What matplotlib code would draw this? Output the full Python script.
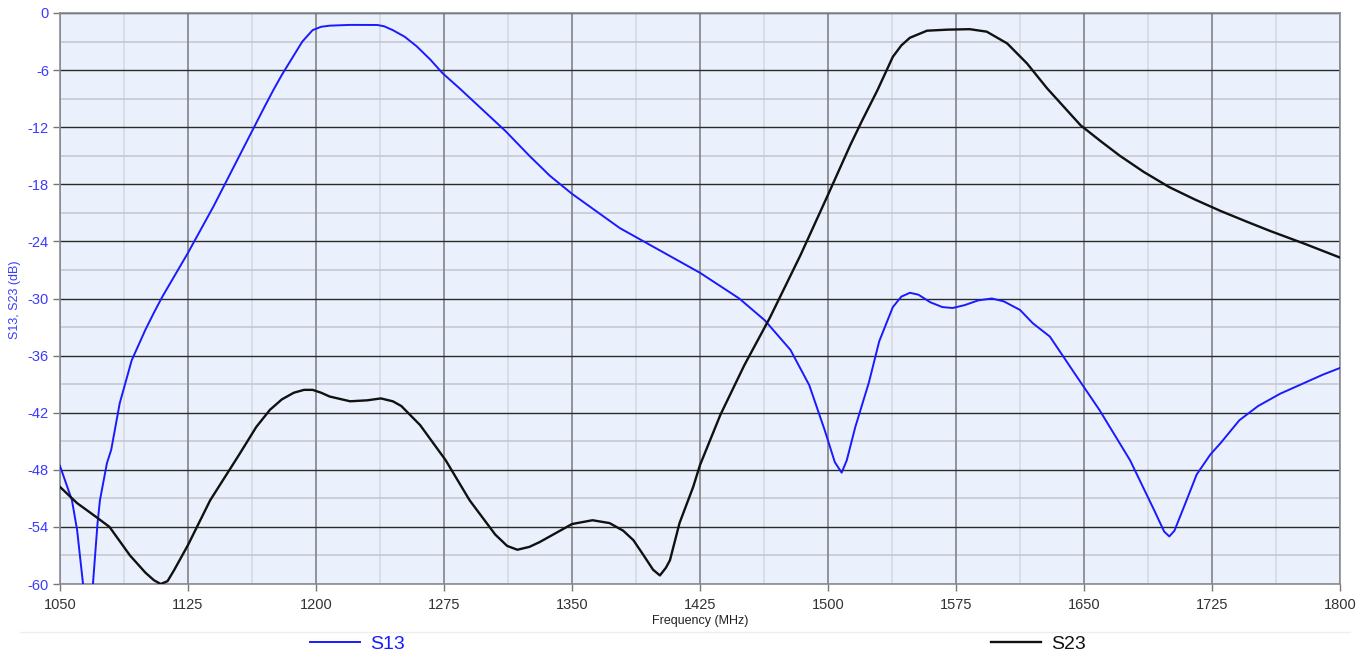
import matplotlib
matplotlib.use("Agg")
import matplotlib.pyplot as plt
from matplotlib.lines import Line2D
import numpy as np

plt.rcParams['font.family'] = ['Liberation Sans', 'DejaVu Sans']

# S13 (MHz, dB)
s13_f = [1050, 1057, 1060, 1063.5, 1066, 1069.3, 1072, 1073.4, 1077.5, 1080, 1085, 1092,
         1100, 1105, 1110, 1125, 1140, 1150, 1160, 1170, 1175, 1180, 1186.5, 1192, 1198, 1203,
         1208, 1220, 1236, 1240, 1245, 1252, 1259, 1267, 1274, 1284, 1296, 1311, 1325,
         1337, 1350, 1378, 1400, 1425, 1448, 1463, 1478, 1489, 1498, 1504, 1508, 1511, 1516,
         1524, 1530, 1538, 1543, 1548, 1553, 1560, 1567, 1573, 1580, 1588, 1596, 1603,
         1612.5, 1620, 1630, 1645, 1659, 1677, 1691, 1697, 1700, 1703, 1709, 1716, 1724,
         1730, 1741, 1752, 1765, 1780, 1790, 1800]
s13_db = [-47.6, -51.2, -54.3, -60, -72, -60, -53.6, -51.2, -47.3, -45.9, -41, -36.5,
          -33.3, -31.5, -29.8, -25.2, -20.3, -16.8, -13.3, -9.8, -8.1, -6.5, -4.6, -3, -1.8, -1.45,
          -1.33, -1.25, -1.26, -1.4, -1.8, -2.5, -3.5, -4.9, -6.3, -7.9, -9.9, -12.4, -15,
          -17.1, -19.0, -22.6, -24.8, -27.3, -30, -32.3, -35.4, -39.1, -43.8, -47.2, -48.3, -47, -43.5,
          -38.8, -34.5, -30.9, -29.8, -29.4, -29.6, -30.4, -30.9, -31, -30.7, -30.2, -30.0, -30.3,
          -31.2, -32.6, -34, -38, -41.7, -47, -52.2, -54.5, -55, -54.4, -51.7, -48.5, -46.4,
          -45.2, -42.8, -41.3, -40.0, -38.8, -38.0, -37.3]

# S23 (MHz, dB)
s23_f = [1050, 1060, 1070, 1079, 1091, 1100, 1105, 1109, 1113, 1117, 1125, 1138, 1155,
         1165, 1173, 1180, 1187, 1193, 1198, 1203, 1208, 1220, 1230, 1238, 1245, 1250, 1261, 1276,
         1290, 1305, 1312, 1318, 1325, 1331, 1340, 1350, 1362, 1372, 1380, 1386, 1392,
         1397.5, 1401.5, 1405, 1407.4, 1413, 1421, 1425, 1437, 1451, 1466, 1484, 1500,
         1513, 1520, 1529, 1538, 1543, 1548, 1558, 1570, 1583, 1593, 1605, 1616.6, 1628.3, 1648,
         1660, 1671, 1685, 1700, 1715, 1730, 1745, 1759, 1780, 1800]
s23_db = [-49.8, -51.5, -52.8, -54, -57, -58.8, -59.6, -60, -59.7, -58.5, -55.9, -51.2, -46.4,
          -43.5, -41.7, -40.6, -39.9, -39.6, -39.6, -39.9, -40.3, -40.8, -40.7, -40.5, -40.8, -41.3, -43.3, -47,
          -51.2, -54.8, -56, -56.4, -56.1, -55.6, -54.7, -53.7, -53.3, -53.6, -54.4, -55.4, -57,
          -58.5, -59.1, -58.3, -57.5, -53.6, -49.8, -47.5, -42.2, -37, -32, -25.4, -19.1,
          -13.9, -11.3, -8.1, -4.6, -3.4, -2.6, -1.86, -1.75, -1.7, -1.96, -3.2, -5.3, -7.9, -11.8,
          -13.5, -15.0, -16.7, -18.3, -19.6, -20.8, -21.9, -22.9, -24.3, -25.7]

x_ticks = [1050, 1125, 1200, 1275, 1350, 1425, 1500, 1575, 1650, 1725, 1800]
y_ticks = [0, -6, -12, -18, -24, -30, -36, -42, -48, -54, -60]

W, H = 1369, 658
fig = plt.figure(figsize=(W / 100, H / 100), dpi=100)
ax = fig.add_axes([60 / W, 1 - 584 / H, 1280 / W, 571 / H])
ax.set_facecolor('#eaf0fc')

ax.set_xlim(1050, 1800)
ax.set_ylim(-60, 0)

# grid: minor first, major on top
for xv in np.arange(1050 + 37.5, 1800, 75):
    ax.axvline(xv, color='#d6dae2', lw=1.2, zorder=1)
for yv in np.arange(-57, 0, 6):
    ax.axhline(yv, color='#c4c6cc', lw=1.1, zorder=1)
for xv in x_ticks:
    ax.axvline(xv, color='#8a8c90', lw=1.3, zorder=1)
for yv in y_ticks:
    ax.axhline(yv, color='#2a2a2a', lw=1.0, zorder=1)

l1, = ax.plot(s13_f, s13_db, color='#1a1aff', lw=1.4, label='S13', zorder=3)
l2, = ax.plot(s23_f, s23_db, color='#111111', lw=1.7, label='S23', zorder=3)

ax.set_xticks(x_ticks)
ax.set_yticks(y_ticks)
ax.set_xticklabels([str(v) for v in x_ticks], fontsize=10.5, color='#333333')
ax.set_yticklabels([str(v) for v in y_ticks], fontsize=10.5, color='#3a3aff')
ax.tick_params(axis='both', length=5, width=1, color='#777777', pad=3)
ax.tick_params(axis='x', pad=5)
for s in ax.spines.values():
    s.set_color('#8a8c90')
    s.set_linewidth(1.2)

ax.set_xlabel('Frequency (MHz)', fontsize=9, color='#222222', labelpad=2)
fig.text(15 / W, 1 - 300 / H, 'S13, S23 (dB)', rotation=90, ha='center', va='center',
         fontsize=9, color='#3a3aff')

# legend strip below the plot
fig.add_artist(Line2D([20 / W, 1350 / W], [1 - 632 / H] * 2, color='#eeeeee', lw=1))
fig.legend(handles=[l1], loc='center left', bbox_to_anchor=(292 / W, 1 - 644 / H),
           frameon=False, fontsize=14, labelcolor='#1a1aff', handlelength=2.6, handletextpad=0.5)
fig.legend(handles=[l2], loc='center left', bbox_to_anchor=(973 / W, 1 - 644 / H),
           frameon=False, fontsize=14, labelcolor='#111111', handlelength=2.6, handletextpad=0.5)

fig.savefig('out.png', dpi=100)
